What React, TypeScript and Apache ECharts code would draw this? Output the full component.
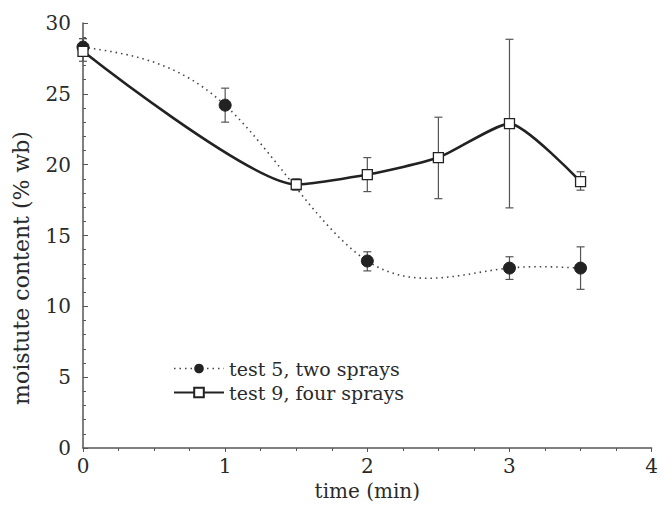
import React, { useEffect, useRef } from "react";
import * as echarts from "echarts";

const xTicks = [0, 1, 2, 3, 4];
const yTicks = [0, 5, 10, 15, 20, 25, 30];

const test5Name = "test 5, two sprays";
const test5X = [0, 1, 2, 3, 3.5];
const test5Y = [28.3, 24.2, 13.2, 12.7, 12.7];
const test5Low = [27.9, 23.0, 12.5, 11.9, 11.2];
const test5High = [28.9, 25.4, 13.85, 13.5, 14.2];

const test9Name = "test 9, four sprays";
const test9X = [0, 1.5, 2, 2.5, 3, 3.5];
const test9Y = [28.0, 18.6, 19.3, 20.5, 22.9, 18.8];
const test9Low = [27.3, 18.2, 18.1, 17.6, 16.95, 18.2];
const test9High = [28.9, 19.0, 20.5, 23.35, 28.85, 19.5];

const FONT = "DejaVu Serif";
const TEXT = "#2a2a2a";
const AXIS = "#555";

// natural cubic spline through the given knots (used only for drawing the fitted curve)
function naturalSpline(xs: number[], ys: number[]) {
  const n = xs.length;
  const h: number[] = [];
  for (let i = 0; i < n - 1; i++) h.push(xs[i + 1] - xs[i]);
  const M = new Array(n).fill(0);
  const m = n - 2;
  if (m > 0) {
    const a: number[] = [], b: number[] = [], c: number[] = [], d: number[] = [];
    for (let i = 1; i <= m; i++) {
      a.push(h[i - 1]);
      b.push(2 * (h[i - 1] + h[i]));
      c.push(h[i]);
      d.push(6 * ((ys[i + 1] - ys[i]) / h[i] - (ys[i] - ys[i - 1]) / h[i - 1]));
    }
    for (let i = 1; i < m; i++) {
      const w = a[i] / b[i - 1];
      b[i] -= w * c[i - 1];
      d[i] -= w * d[i - 1];
    }
    const sol = new Array(m).fill(0);
    sol[m - 1] = d[m - 1] / b[m - 1];
    for (let i = m - 2; i >= 0; i--) sol[i] = (d[i] - c[i] * sol[i + 1]) / b[i];
    for (let i = 0; i < m; i++) M[i + 1] = sol[i];
  }
  return (x: number) => {
    let k = 0;
    while (k < n - 2 && x > xs[k + 1]) k++;
    const hk = h[k];
    const A = (xs[k + 1] - x) / hk;
    const B = (x - xs[k]) / hk;
    return (
      A * ys[k] +
      B * ys[k + 1] +
      ((A * A * A - A) * M[k] + (B * B * B - B) * M[k + 1]) * (hk * hk) / 6
    );
  };
}

function curveSeries(xs: number[], ys: number[], lineStyle: any) {
  const f = naturalSpline(xs, ys);
  return {
    type: "custom",
    name: "curve",
    silent: true,
    z: 2,
    data: xs.map((x, i) => [x, ys[i]]),
    encode: { x: 0, y: 1 },
    renderItem: (params: any, api: any) => {
      if (params.dataIndex !== 0) return null;
      const pts: number[][] = [];
      const x0 = xs[0];
      const x1 = xs[xs.length - 1];
      const steps = 200;
      for (let s = 0; s <= steps; s++) {
        const x = x0 + ((x1 - x0) * s) / steps;
        pts.push(api.coord([x, f(x)]));
      }
      return { type: "polyline", shape: { points: pts }, style: { fill: "none", ...lineStyle } };
    },
  };
}

function errorSeries(xs: number[], lo: number[], hi: number[]) {
  return {
    type: "custom",
    name: "err",
    silent: true,
    z: 1,
    data: xs.map((x, i) => [x, lo[i], hi[i]]),
    encode: { x: 0, y: [1, 2] },
    renderItem: (params: any, api: any) => {
      const x = api.value(0);
      const pLo = api.coord([x, api.value(1)]);
      const pHi = api.coord([x, api.value(2)]);
      const hw = 4;
      const style = { stroke: AXIS, lineWidth: 1.2 };
      return {
        type: "group",
        children: [
          { type: "line", shape: { x1: pLo[0], y1: pLo[1], x2: pHi[0], y2: pHi[1] }, style },
          { type: "line", shape: { x1: pLo[0] - hw, y1: pLo[1], x2: pLo[0] + hw, y2: pLo[1] }, style },
          { type: "line", shape: { x1: pHi[0] - hw, y1: pHi[1], x2: pHi[0] + hw, y2: pHi[1] }, style },
        ],
      };
    },
  };
}

export default function App() {
  const ref = useRef<HTMLDivElement>(null);
  useEffect(() => {
    if (!ref.current) return;
    const chart = echarts.init(ref.current, undefined, { renderer: "svg" });
    chart.setOption({
      animation: false,
      backgroundColor: "#fff",
      grid: { left: 83, right: 4, top: 23, bottom: 54, containLabel: false },
      legend: {
        orient: "vertical",
        left: 168,
        top: 354,
        itemWidth: 50,
        itemHeight: 12,
        itemGap: 5,
        textStyle: { fontFamily: FONT, fontSize: 19, color: TEXT },
        data: [
          {
            name: test5Name,
            lineStyle: { color: "#444", width: 1.6, type: [1.5, 4], opacity: 1 },
          },
          { name: test9Name },
        ],
      },
      xAxis: {
        type: "value",
        min: xTicks[0],
        max: xTicks[xTicks.length - 1],
        interval: 1,
        axisLine: { lineStyle: { color: AXIS, width: 1.5 } },
        axisTick: { inside: false, length: 4, lineStyle: { color: AXIS } },
        minorTick: { show: true, splitNumber: 4, length: 3, lineStyle: { color: AXIS } },
        splitLine: { show: false },
        axisLabel: { fontFamily: FONT, fontSize: 20, color: TEXT, margin: 8 },
        name: "time (min)",
        nameLocation: "middle",
        nameGap: 33,
        nameTextStyle: { fontFamily: FONT, fontSize: 20, color: TEXT },
      },
      yAxis: {
        type: "value",
        min: yTicks[0],
        max: yTicks[yTicks.length - 1],
        interval: 5,
        axisLine: { show: true, lineStyle: { color: AXIS, width: 1.5 } },
        axisTick: { show: true, inside: true, length: 5, lineStyle: { color: AXIS } },
        minorTick: { show: true, splitNumber: 5, length: 3, lineStyle: { color: AXIS } },
        splitLine: { show: false },
        axisLabel: { fontFamily: FONT, fontSize: 20, color: TEXT, margin: 12 },
      },
      graphic: [
        {
          type: "text",
          x: 21,
          y: 268,
          rotation: Math.PI / 2,
          style: {
            text: "moistute content (% wb)",
            fontFamily: FONT,
            fontSize: 22,
            fill: TEXT,
            align: "center",
            verticalAlign: "middle",
          },
        },
      ],
      series: [
        errorSeries(test5X, test5Low, test5High),
        errorSeries(test9X, test9Low, test9High),
        curveSeries(test5X, test5Y, { stroke: "#444", lineWidth: 1.6, lineDash: [1.5, 4] }),
        {
          name: test5Name,
          type: "line",
          z: 3,
          data: test5X.map((x, i) => [x, test5Y[i]]),
          symbol: "circle",
          symbolSize: 12,
          showAllSymbol: true,
          lineStyle: { color: "#444", width: 1.6, type: [1.5, 4], opacity: 0 },
          itemStyle: { color: "#222", borderColor: "#222" },
        },
        {
          name: test9Name,
          type: "line",
          smooth: 0.2,
          z: 4,
          data: test9X.map((x, i) => [x, test9Y[i]]),
          symbol: "rect",
          symbolSize: 10,
          showAllSymbol: true,
          lineStyle: { color: "#222", width: 2.6, type: "solid" },
          itemStyle: { color: "#fff", borderColor: "#222", borderWidth: 1.3 },
        },
      ],
    });
    return () => chart.dispose();
  }, []);
  return (
    <div
      ref={ref}
      style={{ position: "fixed", left: 0, top: 0, width: 661, height: 506 }}
    />
  );
}
